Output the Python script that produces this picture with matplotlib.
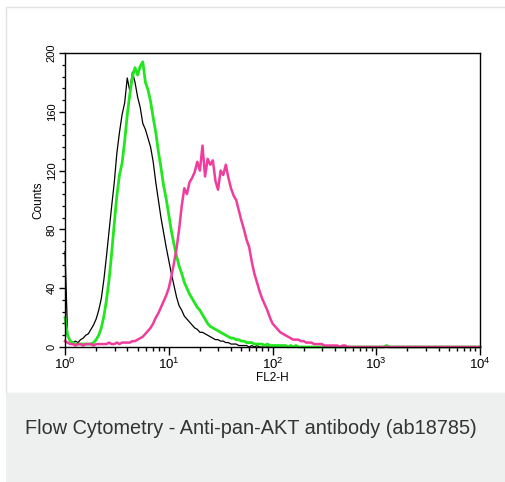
import numpy as np
import matplotlib
matplotlib.use("Agg")
import matplotlib.pyplot as plt
from matplotlib.patches import Rectangle
from matplotlib.ticker import LogLocator, MultipleLocator

plt.rcParams['font.family'] = ['Liberation Sans', 'DejaVu Sans']
plt.rcParams['mathtext.fontset'] = 'custom'
plt.rcParams['mathtext.rm'] = 'Liberation Sans'

# FL2-H channels, 40 per decade from 10^0 to 10^4
channels = np.logspace(0, 4, 161)

# counts (isotype / black)
black_counts = [
    65, 8, 4, 3, 4, 3, 5, 6, 8, 9,
    12, 15, 19, 25, 33, 46, 62, 79, 96, 112,
    132, 146, 158, 166, 183, 174, 187, 180, 170, 163,
    152, 148, 142, 136, 126, 112, 100, 88, 78, 68,
    59, 50, 42, 34, 28, 25, 21, 19, 17, 15,
    13, 12, 10, 10, 9, 8, 7, 6, 5, 5,
    4, 4, 3, 3, 2, 2, 2, 1, 1, 1,
    1, 0, 1, 0, 1, 0, 0, 0, 0, 0,
    0, 0, 0, 0, 0, 0, 0, 0, 0, 0,
    0, 0, 0, 0, 0, 0, 0, 0, 0, 0,
    0, 0, 0, 0, 0, 0, 0, 0, 0, 0,
    0, 0, 0, 0, 0, 0, 0, 0, 0, 0,
    0, 0, 0, 0, 0, 0, 0, 0, 0, 0,
    0, 0, 0, 0, 0, 0, 0, 0, 0, 0,
    0, 0, 0, 0, 0, 0, 0, 0, 0, 0,
    0, 0, 0, 0, 0, 0, 0, 0, 0, 0,
    0,
]

green_counts = [
    20, 8, 4, 3, 2, 2, 2, 2, 2, 2,
    2, 3, 5, 8, 13, 21, 32, 46, 64, 84,
    103, 117, 125, 140, 158, 172, 184, 190, 185, 191,
    194, 180, 175, 167, 156, 146, 133, 122, 110, 101,
    90, 79, 70, 62, 55, 50, 44, 40, 36, 33,
    30, 27, 25, 22, 19, 16, 14, 13, 12, 11,
    10, 9, 8, 7, 6, 6, 5, 5, 4, 4,
    3, 3, 3, 2, 2, 2, 2, 1, 2, 1,
    1, 1, 1, 1, 1, 1, 0, 1, 0, 1,
    0, 0, 0, 0, 0, 0, 0, 0, 0, 0,
    0, 0, 0, 0, 0, 0, 0, 0, 0, 0,
    0, 0, 0, 0, 0, 0, 0, 0, 0, 0,
    0, 0, 0, 0, 1, 0, 0, 0, 0, 0,
    0, 0, 0, 0, 0, 0, 0, 0, 0, 0,
    0, 0, 0, 0, 0, 0, 0, 0, 0, 0,
    0, 0, 0, 0, 0, 0, 0, 0, 0, 0,
    0,
]

# anti-pan-AKT stained (magenta)
magenta_counts = [
    4, 3, 2, 2, 1, 2, 2, 1, 2, 2,
    2, 1, 2, 2, 2, 2, 2, 3, 2, 2,
    3, 2, 3, 3, 3, 3, 4, 4, 5, 6,
    7, 9, 11, 13, 16, 20, 23, 27, 31, 35,
    40, 48, 57, 67, 80, 96, 108, 104, 112, 115,
    119, 126, 120, 137, 116, 128, 124, 127, 113, 107,
    120, 117, 124, 115, 108, 103, 100, 93, 86, 80,
    73, 68, 58, 50, 44, 38, 33, 29, 25, 20,
    16, 14, 12, 10, 9, 8, 7, 6, 5, 5,
    5, 4, 4, 3, 3, 3, 2, 2, 2, 2,
    1, 1, 1, 1, 1, 1, 0, 1, 1, 0,
    0, 0, 0, 0, 0, 0, 0, 0, 0, 0,
    0, 0, 0, 0, 0, 0, 0, 0, 0, 0,
    0, 0, 0, 0, 0, 0, 0, 0, 0, 0,
    0, 0, 0, 0, 0, 0, 0, 0, 0, 0,
    0, 0, 0, 0, 0, 0, 0, 0, 0, 0,
    0,
]

caption = "Flow Cytometry - Anti-pan-AKT antibody (ab18785)"

W, H = 506, 482
fig = plt.figure(figsize=(W / 100, H / 100), dpi=100)
fig.patch.set_facecolor('white')

# card border and caption box
fig.patches.append(Rectangle((6 / W, 89 / H), 2.0, (H - 7 - 89) / H, transform=fig.transFigure,
                             facecolor='white', edgecolor='#e2e2e2', lw=1.0, zorder=-5))
fig.patches.append(Rectangle((6 / W, -0.1), 2.0, 0.1 + 89 / H, transform=fig.transFigure,
                             facecolor='#eeefef', edgecolor='none', zorder=-4))
fig.text(251 / W, (H - 429) / H, caption, ha='center', va='center',
         fontsize=14.3, color='#333333')

ax = fig.add_axes([65 / W, (H - 347) / H, 415 / W, 294 / H])
ax.set_zorder(2)
ax.patch.set_alpha(0)
ax.plot(channels, black_counts, color='black', lw=0.9, clip_on=False)
ax.plot(channels, green_counts, color='#22e61e', lw=2.0, clip_on=False)
ax.plot(channels, magenta_counts, color='#f03c9c', lw=1.8, clip_on=False)

ax.set_xscale('log')
ax.set_xlim(1, 1e4)
ax.set_ylim(0, 200)
ax.xaxis.set_major_locator(LogLocator(base=10, numticks=10))
ax.xaxis.set_minor_locator(LogLocator(base=10, subs=np.arange(2, 10), numticks=20))
ax.yaxis.set_major_locator(MultipleLocator(40))
ax.yaxis.set_minor_locator(MultipleLocator(8))

ax.tick_params(axis='x', which='major', length=6, width=1, labelsize=9.5, pad=1)
ax.tick_params(axis='x', which='minor', length=3, width=1)
ax.tick_params(axis='y', which='major', length=4, width=1, labelsize=8, pad=2, labelrotation=90)
ax.tick_params(axis='y', which='minor', length=2.5, width=0.9)
for lab in ax.get_yticklabels():
    lab.set_va('center')

for s in ax.spines.values():
    s.set_linewidth(1.0)

ax.set_xlabel('FL2-H', fontsize=8.5, labelpad=0)
ax.set_ylabel('Counts', fontsize=8.5, labelpad=2)

fig.savefig('out.png', dpi=100)
